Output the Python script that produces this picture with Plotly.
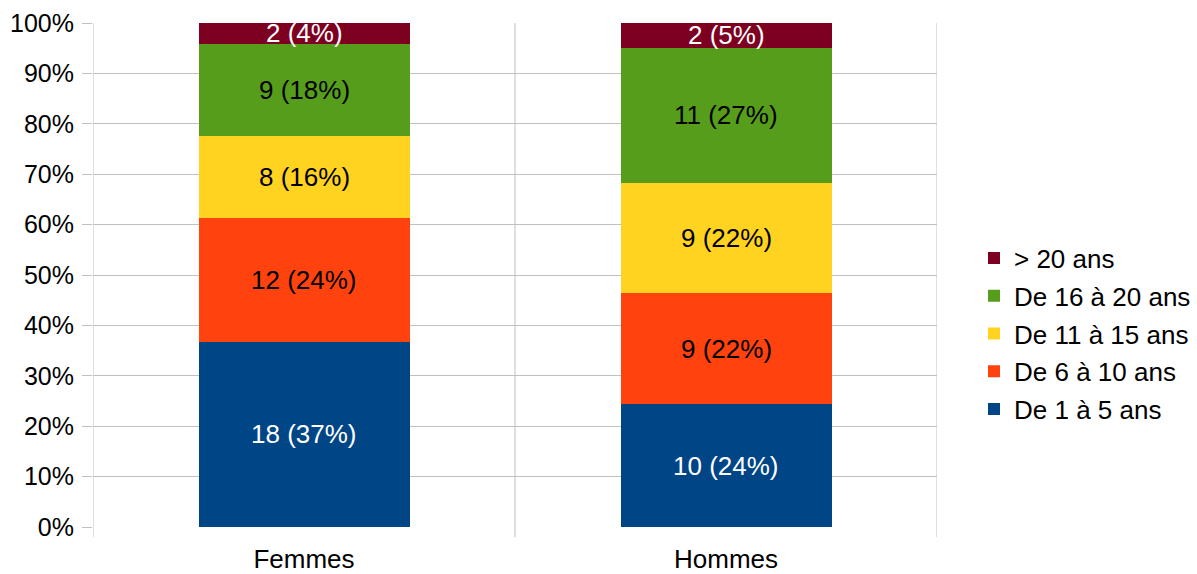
import plotly.graph_objects as go

# Ancienneté par sexe
categories = ["Femmes", "Hommes"]
series_names = ["De 1 à 5 ans", "De 6 à 10 ans", "De 11 à 15 ans", "De 16 à 20 ans", "> 20 ans"]
femmes = [18, 12, 8, 9, 2]
hommes = [10, 9, 9, 11, 2]
colors = ["#004586", "#ff420e", "#ffd320", "#579d1c", "#7e0021"]
label_colors = ["white", "black", "black", "black", "white"]
y_ticks = [0, 10, 20, 30, 40, 50, 60, 70, 80, 90, 100]
y_tick_labels = [f"{v}%" for v in y_ticks]

FONT = "Liberation Sans, Arial, sans-serif"
counts = [femmes, hommes]
totals = [sum(c) for c in counts]

fig = go.Figure()
for i, name in enumerate(series_names):
    vals = [counts[k][i] for k in range(len(categories))]
    fig.add_trace(go.Bar(
        x=categories, y=vals, name=name,
        marker=dict(color=colors[i], line=dict(width=0)),
        width=0.5, legendgroup=name, legendrank=len(series_names) - i,
        hoverinfo="skip",
    ))

# Segment labels: "n (p%)" centred in each stacked segment
annotations = []
for k, cat in enumerate(categories):
    cum = 0.0
    for i in range(len(series_names)):
        v = counts[k][i]
        pct = v / totals[k] * 100
        mid = cum + pct / 2
        cum += pct
        annotations.append(dict(
            x=cat, y=mid, xref="x", yref="y",
            text=f"{v} ({round(pct)}%)", showarrow=False,
            font=dict(family=FONT, size=26, color=label_colors[i]),
        ))

# Category separators and their tick marks below the axis
shapes = []
for xb in [-0.5, 0.5, 1.5]:
    shapes.append(dict(type="line", xref="x", yref="paper", x0=xb, x1=xb,
                       y0=-0.02, y1=1, line=dict(color="#c0c0c0", width=1), layer="below"))

fig.update_layout(
    barmode="stack", barnorm="percent",
    width=1197, height=574,
    margin=dict(l=93, r=260, t=23, b=47, autoexpand=False),
    paper_bgcolor="white", plot_bgcolor="white",
    font=dict(family=FONT, size=26, color="black"),
    annotations=annotations, shapes=shapes,
    legend=dict(
        xref="container", yref="container",
        x=0.8137, xanchor="left", y=0.4181, yanchor="middle",
        traceorder="grouped", tracegroupgap=1,
        font=dict(family=FONT, size=26, color="black"),
        itemwidth=30,
    ),
    xaxis=dict(range=[-0.5, 1.5], showgrid=False, zeroline=False, automargin=False,
               showline=False, ticks="", ticklabelstandoff=14,
               tickfont=dict(family=FONT, size=26)),
    yaxis=dict(range=[0, 100], tickmode="array", tickvals=y_ticks, ticktext=y_tick_labels,
               showgrid=True, gridcolor="#c0c0c0", gridwidth=1, automargin=False,
               zeroline=False, showline=False,
               ticks="outside", ticklen=10, tickcolor="#c0c0c0",
               ticklabelstandoff=3, tickfont=dict(family=FONT, size=25)),
    bargap=0.5,
)

fig.write_html("out.html")
